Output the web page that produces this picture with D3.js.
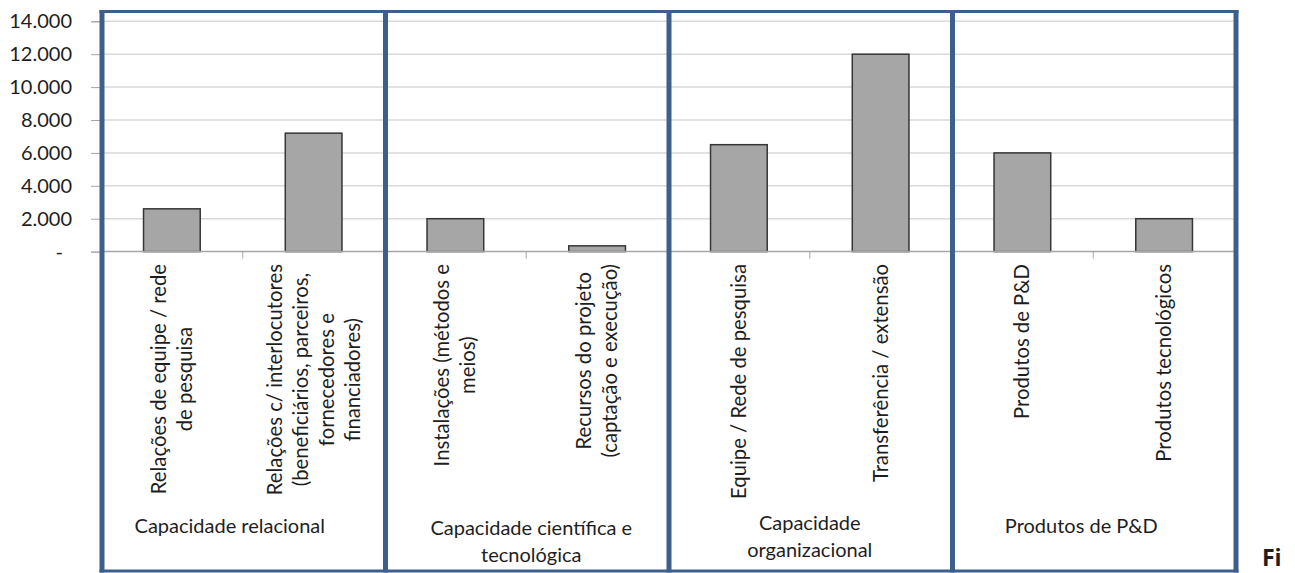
<!DOCTYPE html>
<html>
<head>
<meta charset="utf-8">
<script src="https://cdn.jsdelivr.net/npm/d3@7"></script>
<style>
  html, body { margin: 0; padding: 0; background: #ffffff; }
  svg { display: block; }
  text { font-family: Lato, "Open Sans", sans-serif; fill: #1e1e1e; }
</style>
</head>
<body>
<svg id="chart" width="1295" height="573"></svg>
<script>
// Categories (label lines for the rotated axis labels)
const categories = [
  "Relações de equipe / rede de pesquisa",
  "Relações c/ interlocutores (beneficiários, parceiros, fornecedores e financiadores)",
  "Instalações (métodos e meios)",
  "Recursos do projeto (captação e execução)",
  "Equipe / Rede de pesquisa",
  "Transferência / extensão",
  "Produtos de P&D",
  "Produtos tecnológicos"
];
const categoryLines = [
  ["Relações de equipe / rede", "de pesquisa"],
  ["Relações c/ interlocutores", "(beneficiários, parceiros,", "fornecedores e", "financiadores)"],
  ["Instalações (métodos e", "meios)"],
  ["Recursos do projeto", "(captação e execução)"],
  ["Equipe / Rede de pesquisa"],
  ["Transferência / extensão"],
  ["Produtos de P&D"],
  ["Produtos tecnológicos"]
];
const values = [2600, 7200, 2000, 350, 6500, 12000, 6000, 2000];

// Groups of two categories each
const groups = [
  "Capacidade relacional",
  "Capacidade científica e tecnológica",
  "Capacidade organizacional",
  "Produtos de P&D"
];
const groupLines = [
  ["Capacidade relacional"],
  ["Capacidade científica e", "tecnológica"],
  ["Capacidade", "organizacional"],
  ["Produtos de P&D"]
];
const groupOfCategory = [0, 0, 1, 1, 2, 2, 3, 3];

// Value axis
const yTicks = [0, 2000, 4000, 6000, 8000, 10000, 12000, 14000];
const yTickLabels = ["-", "2.000", "4.000", "6.000", "8.000", "10.000", "12.000", "14.000"];

// ---- layout ----
const plot = { left: 101, right: 1235, top: 21.3, bottom: 251.6 };
const panel = { top: 11.5, bottom: 571, color: "#3d5f8b" };
const labelTop = 264;          // upper end of the rotated category labels
const labelLineGap = 26;
const groupLabelLayout = [      // horizontal shift from panel centre, first baseline
  { dx: -13, y: 533 },
  { dx: 5, y: 535 },
  { dx: 0, y: 530 },
  { dx: -12, y: 533 }
];
const groupLineGap = 27;

const svg = d3.select("#chart");

const x = d3.scaleBand()
  .domain(categories)
  .range([plot.left, plot.right])
  .paddingInner(0.6)
  .paddingOuter(0.3);

const y = d3.scaleLinear()
  .domain([0, 14000])
  .range([plot.bottom, plot.top]);

const step = x.step();
const boundary = k => plot.left + k * step;

// gridlines
svg.append("g")
  .selectAll("line")
  .data(yTicks.filter(d => d > 0))
  .join("line")
  .attr("x1", plot.left).attr("x2", plot.right)
  .attr("y1", d => y(d)).attr("y2", d => y(d))
  .attr("stroke", "#d9d9d9")
  .attr("stroke-width", 1.5);

// value axis
const yAxis = d3.axisLeft(y)
  .tickValues(yTicks)
  .tickSize(10)
  .tickPadding(19)
  .tickFormat((d, i) => yTickLabels[i]);

const gy = svg.append("g")
  .attr("transform", `translate(${plot.left},0)`)
  .call(yAxis);
gy.select(".domain").attr("stroke", "#a6a6a6");
gy.selectAll(".tick line").attr("stroke", "#a6a6a6");
gy.selectAll(".tick text")
  .style("font-family", "Lato, sans-serif")
  .style("font-size", "20px")
  .attr("fill", "#1e1e1e")
  .attr("dx", d => d === 0 ? -9 : 0);

// bars
svg.append("g")
  .selectAll("rect")
  .data(values)
  .join("rect")
  .attr("x", (d, i) => x(categories[i]))
  .attr("width", x.bandwidth())
  .attr("y", d => y(d))
  .attr("height", d => y(0) - y(d))
  .attr("fill", "#a6a6a6")
  .attr("stroke", "#363636")
  .attr("stroke-width", 1.5);

// category axis line and boundary ticks
svg.append("line")
  .attr("x1", plot.left).attr("x2", plot.right)
  .attr("y1", y(0)).attr("y2", y(0))
  .attr("stroke", "#a6a6a6")
  .attr("stroke-width", 1.5);

svg.append("g")
  .selectAll("line")
  .data(d3.range(categories.length + 1))
  .join("line")
  .attr("x1", k => boundary(k)).attr("x2", k => boundary(k))
  .attr("y1", y(0)).attr("y2", y(0) + 7)
  .attr("stroke", "#a6a6a6")
  .attr("stroke-width", 1);

// rotated category labels, lines centred on one another
const catLabels = svg.append("g")
  .selectAll("g")
  .data(categoryLines)
  .join("g")
  .attr("transform", (d, i) => `translate(${x(categories[i]) + x.bandwidth() / 2},0) rotate(-90)`);

catLabels.each(function(lines) {
  const g = d3.select(this);
  const texts = g.selectAll("text")
    .data(lines)
    .join("text")
    .style("font-size", "20.3px")
    .attr("text-anchor", "middle")
    .attr("dy", "0.35em")
    .text(d => d);
  const maxLen = d3.max(texts.nodes(), n => n.getComputedTextLength());
  const n = lines.length;
  texts
    .attr("x", -(labelTop + maxLen / 2))
    .attr("y", (d, k) => (k - (n - 1) / 2) * labelLineGap);
});

// group labels
svg.append("g")
  .selectAll("text")
  .data(groupLines)
  .join("text")
  .attr("text-anchor", "middle")
  .style("font-size", "20px")
  .attr("transform", (d, i) => {
    const cx = (boundary(2 * i) + boundary(2 * i + 2)) / 2 + groupLabelLayout[i].dx;
    return `translate(${cx},${groupLabelLayout[i].y})`;
  })
  .selectAll("tspan")
  .data(d => d)
  .join("tspan")
  .attr("x", 0)
  .attr("y", (d, k) => k * groupLineGap)
  .text(d => d);

// panel frames around each group
const frame = svg.append("g").attr("stroke", panel.color).attr("fill", "none");
frame.selectAll("line.v")
  .data(d3.range(groups.length + 1))
  .join("line")
  .attr("class", "v")
  .attr("x1", k => boundary(2 * k) + 1).attr("x2", k => boundary(2 * k) + 1)
  .attr("y1", panel.top - 1.5).attr("y2", panel.bottom + 1.5)
  .attr("stroke-width", 5);
frame.selectAll("line.h")
  .data([panel.top, panel.bottom])
  .join("line")
  .attr("class", "h")
  .attr("x1", boundary(0) - 1.5).attr("x2", boundary(categories.length) + 3.5)
  .attr("y1", d => d).attr("y2", d => d)
  .attr("stroke-width", 3);

// caption start at the right edge
svg.append("text")
  .attr("x", 1262)
  .attr("y", 566)
  .style("font-family", "'Open Sans', sans-serif")
  .style("font-weight", "bold")
  .style("font-size", "23px")
  .attr("fill", "#000")
  .text("Fi");
</script>
</body>
</html>
